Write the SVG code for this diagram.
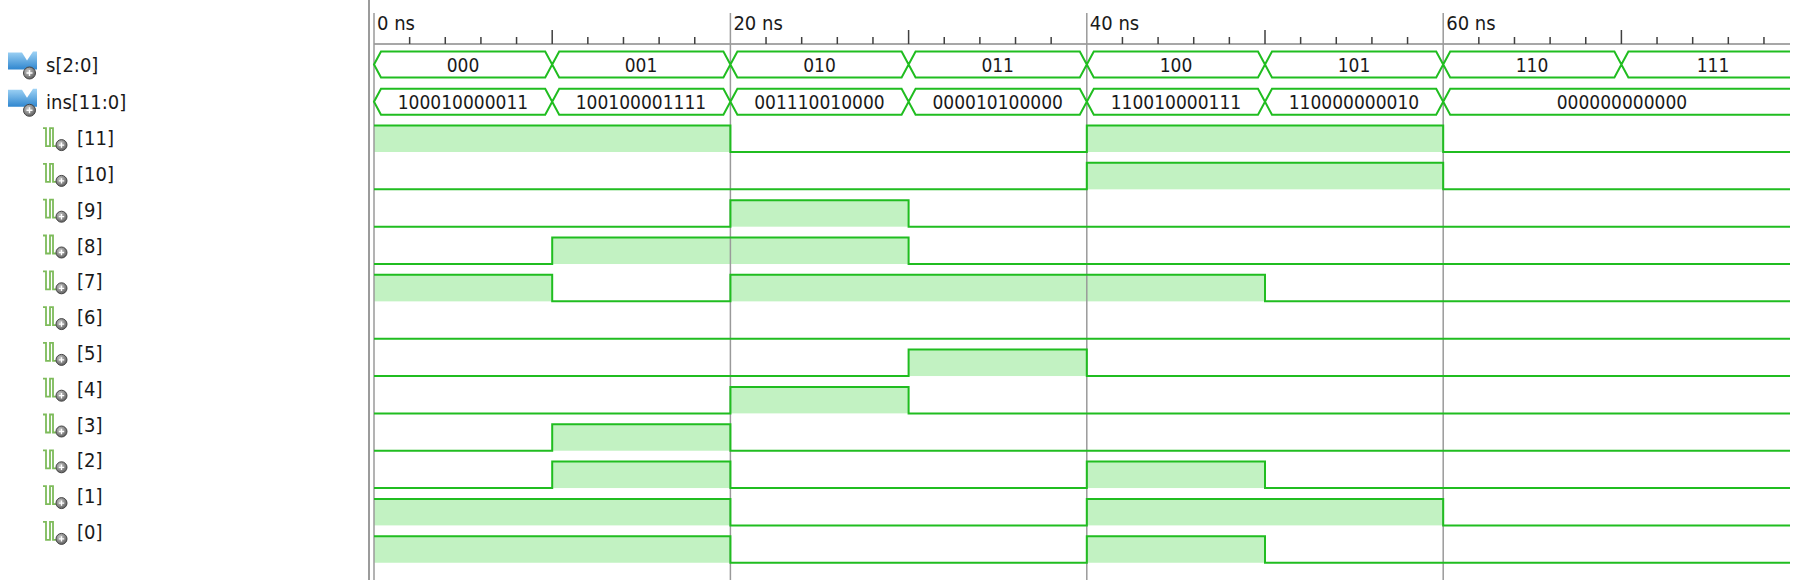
<svg xmlns="http://www.w3.org/2000/svg" xmlns:xlink="http://www.w3.org/1999/xlink" width="1793" height="580" viewBox="0 0 1793 580">
<style>
.txt{font-family:"DejaVu Sans Condensed","DejaVu Sans",sans-serif;fill:#1a1a1a}
.lbl{font-size:20px}
.val{font-size:19px;text-anchor:middle}
.rul{font-size:20px}
.bus{fill:none;stroke:#20bd20;stroke-width:2;stroke-linejoin:miter}
.wave{fill:none;stroke:#20bd20;stroke-width:2}
.hi{fill:#c2f2c2}
.grid{stroke:#9a9a9a;stroke-width:1.5}
.tick{stroke:#404040;stroke-width:1.5;fill:none}
</style>
<defs>
<linearGradient id="blue" x1="0" y1="0" x2="0" y2="1">
<stop offset="0" stop-color="#9fd3f5"/>
<stop offset="1" stop-color="#2f86cf"/>
</linearGradient>
<radialGradient id="knob" cx="0.4" cy="0.35" r="0.7">
<stop offset="0" stop-color="#c8c8c8"/>
<stop offset="1" stop-color="#5a5a5a"/>
</radialGradient>
<g id="busIcon">
<path d="M8,-12 H22 L27,-4 L33,-13 H37 V5 H8 Z" fill="url(#blue)"/>
<circle cx="29.5" cy="8.5" r="6" fill="url(#knob)" stroke="#444" stroke-width="1"/>
<path d="M26.5,8.5 H32.5 M29.5,5.5 V11.5" stroke="#fff" stroke-width="1.4"/>
</g>
<g id="bitIcon">
<path d="M43,-10 H46 V8 H50 V-10 H53 V8 H56" fill="none" stroke="#7dbb5a" stroke-width="1.8"/>
<circle cx="61.5" cy="7" r="5.5" fill="url(#knob)" stroke="#444" stroke-width="1"/>
<path d="M58.8,7 H64.2 M61.5,4.3 V9.7" stroke="#fff" stroke-width="1.3"/>
</g>
</defs>
<rect width="1793" height="580" fill="#ffffff"/>

<!-- name panel -->
<g id="names">
<g id="name-s" transform="translate(0,64.5)"><use xlink:href="#busIcon"/><text class="txt lbl" x="46" y="7">s[2:0]</text></g>
<g id="name-ins" transform="translate(0,101.8)"><use xlink:href="#busIcon"/><text class="txt lbl" x="46" y="7">ins[11:0]</text></g>
<g id="name-11" transform="translate(0,138.1)"><use xlink:href="#bitIcon"/><text class="txt lbl" x="77" y="7">[11]</text></g>
<g id="name-10" transform="translate(0,173.9)"><use xlink:href="#bitIcon"/><text class="txt lbl" x="77" y="7">[10]</text></g>
<g id="name-9" transform="translate(0,209.7)"><use xlink:href="#bitIcon"/><text class="txt lbl" x="77" y="7">[9]</text></g>
<g id="name-8" transform="translate(0,245.5)"><use xlink:href="#bitIcon"/><text class="txt lbl" x="77" y="7">[8]</text></g>
<g id="name-7" transform="translate(0,281.3)"><use xlink:href="#bitIcon"/><text class="txt lbl" x="77" y="7">[7]</text></g>
<g id="name-6" transform="translate(0,317.1)"><use xlink:href="#bitIcon"/><text class="txt lbl" x="77" y="7">[6]</text></g>
<g id="name-5" transform="translate(0,352.9)"><use xlink:href="#bitIcon"/><text class="txt lbl" x="77" y="7">[5]</text></g>
<g id="name-4" transform="translate(0,388.7)"><use xlink:href="#bitIcon"/><text class="txt lbl" x="77" y="7">[4]</text></g>
<g id="name-3" transform="translate(0,424.5)"><use xlink:href="#bitIcon"/><text class="txt lbl" x="77" y="7">[3]</text></g>
<g id="name-2" transform="translate(0,460.3)"><use xlink:href="#bitIcon"/><text class="txt lbl" x="77" y="7">[2]</text></g>
<g id="name-1" transform="translate(0,496.1)"><use xlink:href="#bitIcon"/><text class="txt lbl" x="77" y="7">[1]</text></g>
<g id="name-0" transform="translate(0,531.9)"><use xlink:href="#bitIcon"/><text class="txt lbl" x="77" y="7">[0]</text></g>
</g>

<!-- high-level fills -->
<g id="fills" class="hi">
<g transform="translate(0,0)"><rect x="374" y="125.5" width="356.4" height="26.5"/><rect x="1086.8" y="125.5" width="356.4" height="26.5"/></g>
<g transform="translate(0,37.34)"><rect x="1086.8" y="125.5" width="356.4" height="26.5"/></g>
<g transform="translate(0,74.68)"><rect x="730.4" y="125.5" width="178.2" height="26.5"/></g>
<g transform="translate(0,112.02)"><rect x="552.2" y="125.5" width="356.4" height="26.5"/></g>
<g transform="translate(0,149.36)"><rect x="374" y="125.5" width="178.2" height="26.5"/><rect x="730.4" y="125.5" width="534.6" height="26.5"/></g>
<g transform="translate(0,224.04)"><rect x="908.6" y="125.5" width="178.2" height="26.5"/></g>
<g transform="translate(0,261.38)"><rect x="730.4" y="125.5" width="178.2" height="26.5"/></g>
<g transform="translate(0,298.72)"><rect x="552.2" y="125.5" width="178.2" height="26.5"/></g>
<g transform="translate(0,336.06)"><rect x="552.2" y="125.5" width="178.2" height="26.5"/><rect x="1086.8" y="125.5" width="178.2" height="26.5"/></g>
<g transform="translate(0,373.4)"><rect x="374" y="125.5" width="356.4" height="26.5"/><rect x="1086.8" y="125.5" width="356.4" height="26.5"/></g>
<g transform="translate(0,410.74)"><rect x="374" y="125.5" width="356.4" height="26.5"/><rect x="1086.8" y="125.5" width="178.2" height="26.5"/></g>
</g>

<!-- ruler and grid -->
<g id="ruler">
<line x1="369" y1="0" x2="369" y2="580" stroke="#7a7a7a" stroke-width="1.5"/>
<path d="M374,44 H1790" stroke="#505050" stroke-width="1.2"/>
<path class="tick" d="M409.64,37V44 M445.28,37V44 M480.92,37V44 M516.56,37V44 M587.84,37V44 M623.48,37V44 M659.12,37V44 M694.76,37V44 M766.04,37V44 M801.68,37V44 M837.32,37V44 M872.96,37V44 M944.24,37V44 M979.88,37V44 M1015.52,37V44 M1051.16,37V44 M1122.44,37V44 M1158.08,37V44 M1193.72,37V44 M1229.36,37V44 M1300.64,37V44 M1336.28,37V44 M1371.92,37V44 M1407.56,37V44 M1478.84,37V44 M1514.48,37V44 M1550.12,37V44 M1585.76,37V44 M1657.04,37V44 M1692.68,37V44 M1728.32,37V44 M1763.96,37V44 M552.2,30V44 M908.6,30V44 M1265,30V44 M1621.4,30V44"/>
<g class="grid">
<line x1="374" y1="13" x2="374" y2="580"/>
<line x1="730.4" y1="13" x2="730.4" y2="580"/>
<line x1="1086.8" y1="13" x2="1086.8" y2="580"/>
<line x1="1443.2" y1="13" x2="1443.2" y2="580"/>
</g>
<text class="txt rul" x="377" y="30">0 ns</text>
<text class="txt rul" x="733.4" y="30">20 ns</text>
<text class="txt rul" x="1089.8" y="30">40 ns</text>
<text class="txt rul" x="1446.2" y="30">60 ns</text>
</g>

<!-- bus s[2:0] -->
<g id="wave-s">
<path class="bus" d="M374,64.5 L381,51.5 H545.2 L552.2,64.5 L545.2,77.5 H381 Z M552.2,64.5 L559.2,51.5 H723.4 L730.4,64.5 L723.4,77.5 H559.2 Z M730.4,64.5 L737.4,51.5 H901.6 L908.6,64.5 L901.6,77.5 H737.4 Z M908.6,64.5 L915.6,51.5 H1079.8 L1086.8,64.5 L1079.8,77.5 H915.6 Z M1086.8,64.5 L1093.8,51.5 H1258 L1265,64.5 L1258,77.5 H1093.8 Z M1265,64.5 L1272,51.5 H1436.2 L1443.2,64.5 L1436.2,77.5 H1272 Z M1443.2,64.5 L1450.2,51.5 H1614.4 L1621.4,64.5 L1614.4,77.5 H1450.2 Z M1790,51.5 H1628.4 L1621.4,64.5 L1628.4,77.5 H1790"/>
<g class="txt val">
<text x="463" y="72">000</text>
<text x="641" y="72">001</text>
<text x="819.5" y="72">010</text>
<text x="997.7" y="72">011</text>
<text x="1176" y="72">100</text>
<text x="1354" y="72">101</text>
<text x="1532" y="72">110</text>
<text x="1713" y="72">111</text>
</g>
</g>

<!-- bus ins[11:0] -->
<g id="wave-ins">
<path class="bus" transform="translate(0,37.34)" d="M374,64.5 L381,51.5 H545.2 L552.2,64.5 L545.2,77.5 H381 Z M552.2,64.5 L559.2,51.5 H723.4 L730.4,64.5 L723.4,77.5 H559.2 Z M730.4,64.5 L737.4,51.5 H901.6 L908.6,64.5 L901.6,77.5 H737.4 Z M908.6,64.5 L915.6,51.5 H1079.8 L1086.8,64.5 L1079.8,77.5 H915.6 Z M1086.8,64.5 L1093.8,51.5 H1258 L1265,64.5 L1258,77.5 H1093.8 Z M1265,64.5 L1272,51.5 H1436.2 L1443.2,64.5 L1436.2,77.5 H1272 Z M1790,51.5 H1450.2 L1443.2,64.5 L1450.2,77.5 H1790"/>
<g class="txt val">
<text x="463" y="109.3">100010000011</text>
<text x="641" y="109.3">100100001111</text>
<text x="819.5" y="109.3">001110010000</text>
<text x="997.7" y="109.3">000010100000</text>
<text x="1176" y="109.3">110010000111</text>
<text x="1354" y="109.3">110000000010</text>
<text x="1622" y="109.3">000000000000</text>
</g>
</g>

<!-- bit waveforms -->
<g id="bits" class="wave">
<g id="wave-11" transform="translate(0,0)"><path d="M374,125.5 H730.4 V152 H1086.8 V125.5 H1443.2 V152 H1790"/></g>
<g id="wave-10" transform="translate(0,37.34)"><path d="M374,152 H1086.8 V125.5 H1443.2 V152 H1790"/></g>
<g id="wave-9" transform="translate(0,74.68)"><path d="M374,152 H730.4 V125.5 H908.6 V152 H1790"/></g>
<g id="wave-8" transform="translate(0,112.02)"><path d="M374,152 H552.2 V125.5 H908.6 V152 H1790"/></g>
<g id="wave-7" transform="translate(0,149.36)"><path d="M374,125.5 H552.2 V152 H730.4 V125.5 H1265 V152 H1790"/></g>
<g id="wave-6" transform="translate(0,186.7)"><path d="M374,152 H1790"/></g>
<g id="wave-5" transform="translate(0,224.04)"><path d="M374,152 H908.6 V125.5 H1086.8 V152 H1790"/></g>
<g id="wave-4" transform="translate(0,261.38)"><path d="M374,152 H730.4 V125.5 H908.6 V152 H1790"/></g>
<g id="wave-3" transform="translate(0,298.72)"><path d="M374,152 H552.2 V125.5 H730.4 V152 H1790"/></g>
<g id="wave-2" transform="translate(0,336.06)"><path d="M374,152 H552.2 V125.5 H730.4 V152 H1086.8 V125.5 H1265 V152 H1790"/></g>
<g id="wave-1" transform="translate(0,373.4)"><path d="M374,125.5 H730.4 V152 H1086.8 V125.5 H1443.2 V152 H1790"/></g>
<g id="wave-0" transform="translate(0,410.74)"><path d="M374,125.5 H730.4 V152 H1086.8 V125.5 H1265 V152 H1790"/></g>
</g>
</svg>
